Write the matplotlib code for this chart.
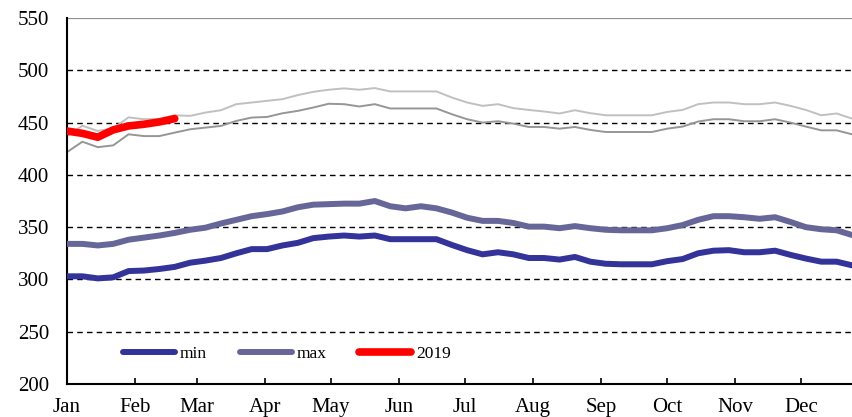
import numpy as np
import matplotlib
matplotlib.use("Agg")
import matplotlib.pyplot as plt

plt.rcParams['font.family'] = ['Liberation Serif', 'DejaVu Serif']

# weekly series, one value per week starting Jan 1
weeks = np.arange(52) * 7

min_vals = [303, 303, 301, 302, 308, 308.5, 310, 312, 316, 318, 320.5, 325, 329, 329,
            332.5, 335, 339.5, 341, 342, 341, 342, 338.5, 338.5, 338.5, 338.5, 333,
            328, 324, 326, 324, 320.5, 320.5, 319, 321.5, 317, 315, 314.5, 314.5,
            314.5, 317.5, 319.5, 325, 327.5, 328, 326, 326, 327.5, 323.5, 320, 317,
            317, 313.5]

max_vals = [334, 334, 332.5, 334, 338, 340, 342, 344.5, 347.5, 349.5, 353.5, 357,
            360.5, 362.5, 365, 369, 371.5, 372, 372.5, 372.5, 375, 370, 368, 370,
            368, 364, 359, 356, 356, 354, 350.5, 350.5, 349, 351, 349, 347.5, 347,
            347, 347, 349, 352, 357, 360.5, 360.5, 359.5, 358, 359.5, 355, 350, 348,
            347, 342.5]

upper_thin = [437, 447, 442, 444.5, 455, 453.2, 453.5, 457, 456.4, 459.6, 461.8,
              467.6, 469.2, 470.8, 472.4, 476.3, 479.4, 481.4, 482.7, 481.4, 483,
              479.8, 479.8, 479.8, 479.8, 474, 469.2, 466, 467.6, 463.8, 462.1,
              460.6, 458.7, 461.8, 459, 457, 457, 457, 457, 460.2, 462.1, 467.6,
              469.2, 469.2, 467.6, 467.6, 469.2, 466, 462.1, 457, 458.7, 453.8]

lower_thin = [421.7, 431.7, 426.5, 428.2, 438.8, 437.1, 437.1, 440.4, 443.6, 445.2,
              446.8, 451.6, 454.8, 455.4, 458.9, 461.2, 464.4, 468, 467.6, 465.4,
              467.6, 463.5, 463.5, 463.5, 463.5, 458, 453.2, 450, 451.3, 449, 445.8,
              445.8, 444.2, 445.8, 443, 441, 441, 441, 441, 444.2, 446.2, 451,
              453.2, 453.2, 451.3, 451.3, 453.2, 450, 446.2, 442.6, 442.6, 438.8]

vals_2019 = [441.9, 439.7, 436, 443, 446.8, 448.4, 450.6, 453.8]

month_starts = [0, 31, 59, 90, 120, 151, 181, 212, 243, 273, 304, 334]
month_labels = ['Jan', 'Feb', 'Mar', 'Apr', 'May', 'Jun',
                'Jul', 'Aug', 'Sep', 'Oct', 'Nov', 'Dec']

fig = plt.figure(figsize=(8.52, 4.17), dpi=100)
ax = fig.add_axes([0.0786, 0.0791, 0.9214, 0.8777])

for y in range(250, 501, 50):
    ax.axhline(y, color='black', lw=1.0, ls=(0, (4, 3)), zorder=1)
ax.axhline(550, color='#909090', lw=1.6, zorder=1)

ax.plot(weeks, upper_thin, color='#c0c0c0', lw=1.4, zorder=2)
ax.plot(weeks, lower_thin, color='#969696', lw=1.4, zorder=2)
ax.plot(weeks, min_vals, color='#333399', lw=4.3, label='min', zorder=3,
        solid_capstyle='round')
ax.plot(weeks, max_vals, color='#666699', lw=4.3, label='max', zorder=3,
        solid_capstyle='round')
ax.plot(weeks[:len(vals_2019)], vals_2019, color='#ff0000', lw=5.5, label='2019',
        zorder=4, solid_capstyle='round')

ax.set_xlim(0, weeks[-1])
ax.set_ylim(200, 550)
ax.set_yticks(range(200, 551, 50))
ax.set_xticks(month_starts)
ax.set_xticklabels(month_labels)

ax.spines['top'].set_visible(False)
ax.spines['right'].set_visible(False)
ax.spines['left'].set_linewidth(1.5)
ax.spines['bottom'].set_linewidth(1.5)

ax.tick_params(axis='y', length=0, pad=13, labelsize=15)
ax.tick_params(axis='x', direction='in', length=4, width=1.2, pad=10, labelsize=15)

leg = ax.legend(loc='lower left', bbox_to_anchor=(0.052, 0.018), ncol=3,
                frameon=False, fontsize=12.5, handlelength=3.0, columnspacing=1.9,
                handletextpad=0.25)

fig.savefig('out.png', dpi=100)
